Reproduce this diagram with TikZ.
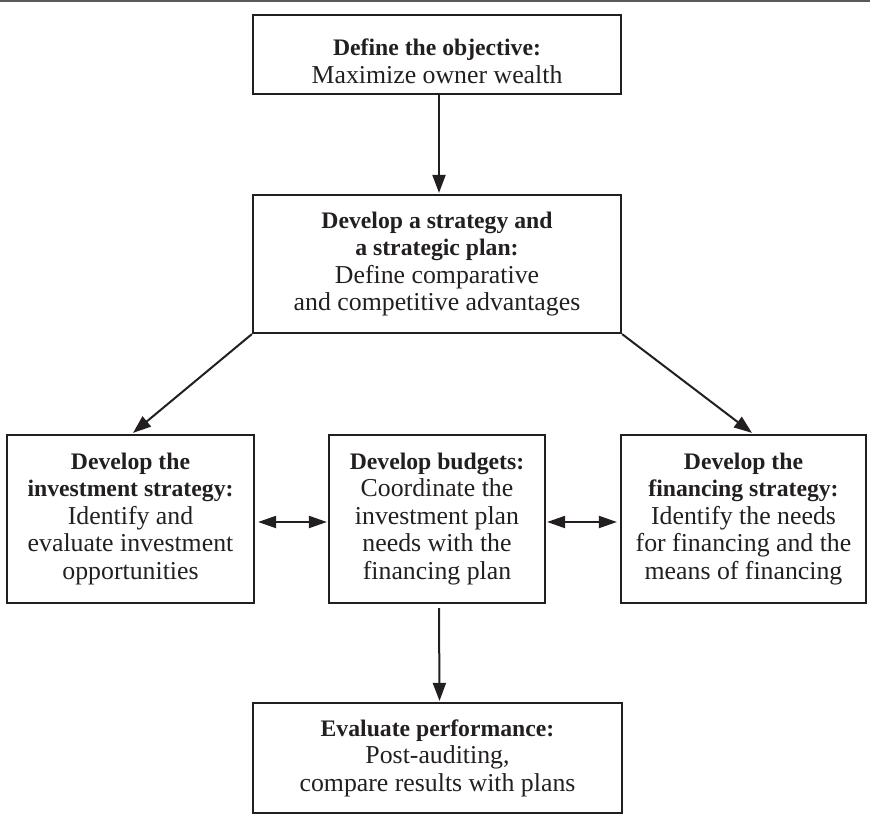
\documentclass[tikz,border=0pt]{standalone}
\usepackage{fontspec}
\setmainfont{Liberation Serif}
\usetikzlibrary{arrows.meta,calc}
\definecolor{ink}{HTML}{231F20}
\definecolor{rule}{HTML}{5A5A5A}
\newcommand\hdfont{\fontsize{23.7}{27.5}\selectfont\bfseries}
\newcommand\bdfont{\fontsize{25.8}{27.5}\selectfont\mdseries}
\begin{document}
\begin{tikzpicture}[x=1pt,y=-1pt,
  box/.style={draw=ink,line width=2.2pt,inner sep=0pt,align=center,text=ink,
    font=\fontsize{25.8}{27.5}\selectfont},
  arr/.style={draw=ink,line width=2pt,-{Triangle[length=18pt,width=13pt]}},
  darr/.style={draw=ink,line width=2pt,{Triangle[length=18pt,width=12pt]}-{Triangle[length=18pt,width=12pt]}}]
\useasboundingbox (0,0) rectangle (870,826);
\coordinate (rl) at (0,1.2);
\coordinate (rr) at (870,1.2);
\draw[rule,line width=2.4pt] (rl) -- (rr);

\node[box,minimum width=368pt,minimum height=79pt] (obj) at (437,54.5)
  {\rule{0pt}{30pt}\hdfont Define the objective:\\ \bdfont Maximize owner wealth};
\node[box,minimum width=368pt,minimum height=138pt] (strat) at (437,264)
  {\hdfont Develop a strategy and\\ \hdfont a strategic plan:\\ \bdfont Define comparative\\ \bdfont and competitive advantages};
\node[box,minimum width=247pt,minimum height=168pt] (inv) at (130.5,519)
  {\hdfont Develop the\\ \hdfont investment strategy:\\ \bdfont Identify and\\ \bdfont evaluate investment\\ \bdfont opportunities};
\node[box,minimum width=216pt,minimum height=168pt] (bud) at (437,519)
  {\hdfont Develop budgets:\\ \bdfont Coordinate the\\ \bdfont investment plan\\ \bdfont needs with the\\ \bdfont financing plan};
\node[box,minimum width=245pt,minimum height=168pt] (fin) at (743.5,519)
  {\hdfont Develop the\\ \hdfont financing strategy:\\ \bdfont Identify the needs\\ \bdfont for financing and the\\ \bdfont means of financing};
\node[box,minimum width=369pt,minimum height=110pt] (eval) at (437.5,758)
  {\hdfont Evaluate performance:\\ \bdfont Post-auditing,\\ \bdfont compare results with plans};

\draw[arr] ($(obj.south)+(2,0)$) -- ($(strat.north)+(2,-1)$);
\draw[arr] (strat.south west) -- ($(inv.north)+(2.5,-1)$);
\draw[arr] (strat.south east) -- ($(fin.north)+(8.5,-1)$);
\draw[darr] ($(inv.east)+(3,3)$) -- ($(bud.west)+(-1,3)$);
\draw[darr] ($(bud.east)+(1,3)$) -- ($(fin.west)+(-3,3)$);
\draw[arr] ($(bud.south)+(2,4)$) -- ($(eval.north)+(2,-1)$);
\end{tikzpicture}
\end{document}
